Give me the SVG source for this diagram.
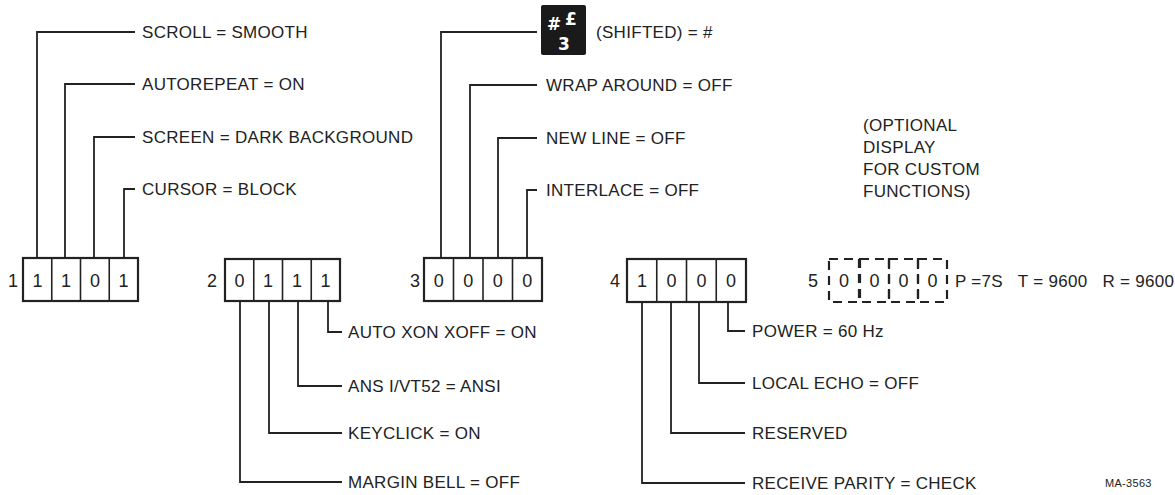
<svg xmlns="http://www.w3.org/2000/svg" width="1175" height="495" viewBox="0 0 1175 495">
<style>
  text { font-family: "Liberation Sans", Arial, sans-serif; font-size: 17px; fill: #222; }
  .lbl { letter-spacing: 0.3px; }
  .dig { text-anchor: middle; font-size: 18px; }
  .box { fill: none; stroke: #222; stroke-width: 2.2; }
  .div { stroke: #222; stroke-width: 1.6; }
  .ln { fill: none; stroke: #222; stroke-width: 1.8; }
  .dash { fill: none; stroke: #222; stroke-width: 2.2; stroke-dasharray: 9 6; }
  .key { fill: #1a1a1a; }
  .keyt { fill: #fff; font-weight: bold; font-family: "DejaVu Sans", "Liberation Sans", sans-serif; }
  .small { font-size: 11px; letter-spacing: 0.3px; }
</style>
<rect width="1175" height="495" fill="#fff"/>

<g id="connectors">
  <!-- block 1 -->
  <path class="ln" d="M37 258 V32 H135"/>
  <path class="ln" d="M65 258 V84 H135"/>
  <path class="ln" d="M94 258 V137 H135"/>
  <path class="ln" d="M124 258 V189 H135"/>
  <!-- block 2 -->
  <path class="ln" d="M240 301 V482 H342"/>
  <path class="ln" d="M269 301 V433 H342"/>
  <path class="ln" d="M298 301 V386 H342"/>
  <path class="ln" d="M328 301 V332 H342"/>
  <!-- block 3 -->
  <path class="ln" d="M441 258 V32 H537"/>
  <path class="ln" d="M470 258 V85 H537"/>
  <path class="ln" d="M498 258 V138 H537"/>
  <path class="ln" d="M527 258 V190 H537"/>
  <!-- block 4 -->
  <path class="ln" d="M642 302 V483 H745"/>
  <path class="ln" d="M671 302 V433 H745"/>
  <path class="ln" d="M699 302 V383 H745"/>
  <path class="ln" d="M728 302 V331 H745"/>
</g>

<g id="block1">
  <text x="13" y="287" class="dig">1</text>
  <rect class="box" x="23" y="258" width="115" height="43"/>
  <line class="div" x1="51.75" y1="258" x2="51.75" y2="301"/>
  <line class="div" x1="80.5" y1="258" x2="80.5" y2="301"/>
  <line class="div" x1="109.25" y1="258" x2="109.25" y2="301"/>
  <text x="37.4" y="287" class="dig">1</text>
  <text x="66.1" y="287" class="dig">1</text>
  <text x="94.9" y="287" class="dig">0</text>
  <text x="123.6" y="287" class="dig">1</text>
</g>
<g id="labels1">
  <text x="142" y="38" class="lbl">SCROLL = SMOOTH</text>
  <text x="142" y="90" class="lbl">AUTOREPEAT = ON</text>
  <text x="142" y="143" class="lbl">SCREEN = DARK BACKGROUND</text>
  <text x="142" y="195" class="lbl">CURSOR = BLOCK</text>
</g>

<g id="block2">
  <text x="212" y="287" class="dig">2</text>
  <rect class="box" x="225" y="259" width="115" height="42"/>
  <line class="div" x1="253.75" y1="259" x2="253.75" y2="301"/>
  <line class="div" x1="282.5" y1="259" x2="282.5" y2="301"/>
  <line class="div" x1="311.25" y1="259" x2="311.25" y2="301"/>
  <text x="239.4" y="287" class="dig">0</text>
  <text x="268.1" y="287" class="dig">1</text>
  <text x="296.9" y="287" class="dig">1</text>
  <text x="325.6" y="287" class="dig">1</text>
</g>
<g id="labels2">
  <text x="348" y="338" class="lbl">AUTO XON XOFF = ON</text>
  <text x="348" y="392" class="lbl">ANS I/VT52 = ANSI</text>
  <text x="348" y="439" class="lbl">KEYCLICK = ON</text>
  <text x="348" y="488" class="lbl">MARGIN BELL = OFF</text>
</g>

<g id="block3">
  <text x="415" y="287" class="dig">3</text>
  <rect class="box" x="424" y="258" width="118" height="43"/>
  <line class="div" x1="453.5" y1="258" x2="453.5" y2="301"/>
  <line class="div" x1="483" y1="258" x2="483" y2="301"/>
  <line class="div" x1="512.5" y1="258" x2="512.5" y2="301"/>
  <text x="438.8" y="287" class="dig">0</text>
  <text x="468.3" y="287" class="dig">0</text>
  <text x="497.8" y="287" class="dig">0</text>
  <text x="527.3" y="287" class="dig">0</text>
</g>
<g id="labels3">
  <g id="key">
    <rect class="key" x="541" y="5" width="45" height="50" rx="2"/>
    <text x="547" y="30" class="keyt" font-size="20">#</text>
    <text x="565" y="25" class="keyt" font-size="18">£</text>
    <text x="558" y="50" class="keyt" font-size="20">3</text>
  </g>
  <text x="596" y="38" class="lbl">(SHIFTED)  = #</text>
  <text x="546" y="91" class="lbl">WRAP AROUND = OFF</text>
  <text x="546" y="144" class="lbl">NEW LINE = OFF</text>
  <text x="546" y="196" class="lbl">INTERLACE = OFF</text>
</g>

<g id="block4">
  <text x="615" y="287" class="dig">4</text>
  <rect class="box" x="627" y="259" width="119" height="43"/>
  <line class="div" x1="656.75" y1="259" x2="656.75" y2="302"/>
  <line class="div" x1="686.5" y1="259" x2="686.5" y2="302"/>
  <line class="div" x1="716.25" y1="259" x2="716.25" y2="302"/>
  <text x="641.9" y="287" class="dig">1</text>
  <text x="671.6" y="287" class="dig">0</text>
  <text x="701.4" y="287" class="dig">0</text>
  <text x="731.1" y="287" class="dig">0</text>
</g>
<g id="labels4">
  <text x="752" y="337" class="lbl">POWER = 60 Hz</text>
  <text x="752" y="389" class="lbl">LOCAL ECHO = OFF</text>
  <text x="752" y="439" class="lbl">RESERVED</text>
  <text x="752" y="489" class="lbl">RECEIVE PARITY = CHECK</text>
</g>

<g id="block5">
  <text x="863" y="131" class="lbl">(OPTIONAL</text>
  <text x="863" y="153" class="lbl">DISPLAY</text>
  <text x="863" y="175" class="lbl">FOR CUSTOM</text>
  <text x="863" y="197" class="lbl">FUNCTIONS)</text>
  <text x="813" y="287" class="dig">5</text>
  <rect class="dash" x="829" y="259" width="30" height="43"/>
  <rect class="dash" x="860" y="259" width="29" height="43"/>
  <rect class="dash" x="889" y="259" width="29" height="43"/>
  <rect class="dash" x="918" y="259" width="29" height="43"/>
  <text x="844" y="287" class="dig">0</text>
  <text x="874.5" y="287" class="dig">0</text>
  <text x="903.5" y="287" class="dig">0</text>
  <text x="932.5" y="287" class="dig">0</text>
  <text x="955" y="287" class="lbl" xml:space="preserve">P =7S   T = 9600   R = 9600</text>
</g>

<text x="1105" y="487" class="small">MA-3563</text>
</svg>
